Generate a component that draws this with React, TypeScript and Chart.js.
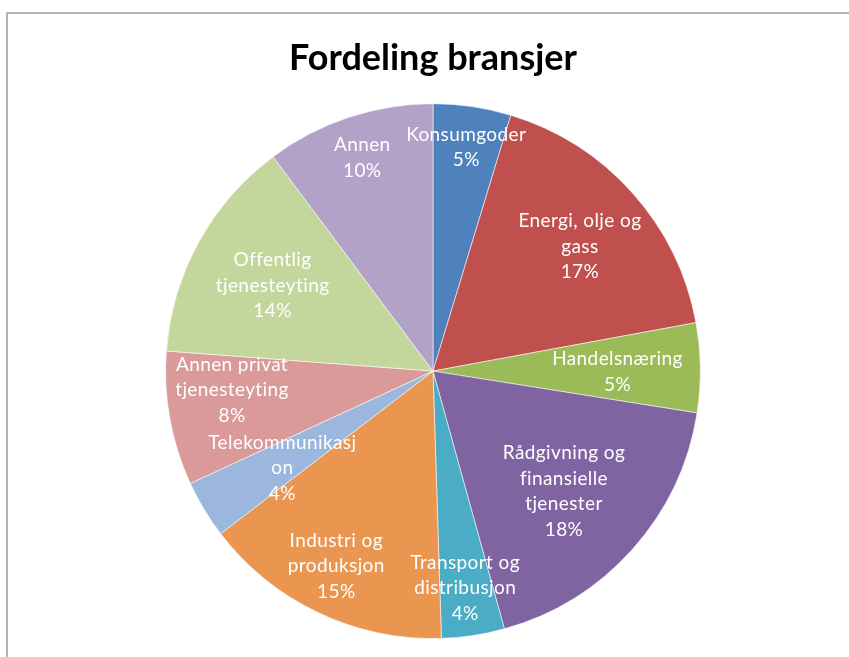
import React, { useEffect, useRef } from "react";
import { Chart, registerables } from "chart.js";

Chart.register(...registerables);

const categories = [
  "Konsumgoder",
  "Energi, olje og gass",
  "Handelsnæring",
  "Rådgivning og finansielle tjenester",
  "Transport og distribusjon",
  "Industri og produksjon",
  "Telekommunikasjon",
  "Annen privat tjenesteyting",
  "Offentlig tjenesteyting",
  "Annen",
];

const shares = [4.7, 17.4, 5.4, 18.2, 3.8, 15.1, 3.5, 8.1, 13.6, 10.2];

const colors = [
  "#4F81BD",
  "#C0504D",
  "#9BBB59",
  "#8064A2",
  "#4BACC6",
  "#EA9650",
  "#9BB7DD",
  "#D99A99",
  "#C3D69B",
  "#B3A2C7",
];

// wrapped label text as shown in the chart
const labelLines = [
  ["Konsumgoder"],
  ["Energi, olje og", "gass"],
  ["Handelsnæring"],
  ["Rådgivning og", "finansielle", "tjenester"],
  ["Transport og", "distribusjon"],
  ["Industri og", "produksjon"],
  ["Telekommunikasj", "on"],
  ["Annen privat", "tjenesteyting"],
  ["Offentlig", "tjenesteyting"],
  ["Annen"],
];

// label placement: [radius fraction, angle tweak in degrees]
const labelPlacement: [number, number][] = [
  [0.845, 0],
  [0.72, 1.5],
  [0.69, 0.9],
  [0.665, 0.8],
  [0.82, 0.2],
  [0.814, 1],
  [0.67, -1.6],
  [0.755, 4.9],
  [0.68, -0.7],
  [0.84, 0],
];

const LABEL_FONT = "Lato";
const LABEL_SIZE = 19;
const LINE_H = 25.5;

const sliceLabels = {
  id: "sliceLabels",
  afterDatasetsDraw(chart: any) {
    const ctx = chart.ctx;
    const meta = chart.getDatasetMeta(0);
    const data = chart.data.datasets[0].data as number[];
    const total = data.reduce((a, b) => a + b, 0);
    ctx.save();
    ctx.fillStyle = "#ffffff";
    ctx.font = `${LABEL_SIZE}px ${LABEL_FONT}`;
    try {
      (ctx as any).letterSpacing = "0.4px";
    } catch (e) {}
    ctx.textAlign = "center";
    ctx.textBaseline = "middle";
    meta.data.forEach((arc: any, i: number) => {
      const p = arc.getProps(["x", "y", "startAngle", "endAngle", "outerRadius"], true);
      const [frac, tweak] = labelPlacement[i];
      const mid = (p.startAngle + p.endAngle) / 2 + (tweak * Math.PI) / 180;
      const r = p.outerRadius * frac;
      const cx = p.x + Math.cos(mid) * r;
      const cy = p.y + Math.sin(mid) * r;
      const pct = Math.round((data[i] / total) * 100) + "%";
      const lines = [...labelLines[i], pct];
      const y0 = cy - ((lines.length - 1) * LINE_H) / 2;
      lines.forEach((t, k) => ctx.fillText(t, cx, y0 + k * LINE_H));
    });
    ctx.restore();
  },
};

export default function App() {
  const ref = useRef<HTMLCanvasElement | null>(null);
  useEffect(() => {
    if (!ref.current) return;
    const chart = new Chart(ref.current, {
      type: "pie",
      data: {
        labels: categories,
        datasets: [
          {
            data: shares,
            backgroundColor: colors,
            borderColor: "rgba(255,255,255,0.55)",
            borderWidth: 1,
          },
        ],
      },
      options: {
        responsive: false,
        devicePixelRatio: 1,
        animation: false,
        rotation: 0,
        layout: { padding: { left: 165, right: 148, top: 0, bottom: 18 } },
        plugins: {
          legend: { display: false },
          tooltip: { enabled: false },
          title: {
            display: true,
            text: "Fordeling bransjer",
            color: "#000000",
            font: { family: "Lato", size: 36, weight: "bold", lineHeight: 1.2 },
            padding: { top: 37, bottom: 23 },
          },
        },
      },
      plugins: [sliceLabels],
    });
    return () => chart.destroy();
  }, []);

  return (
    <div
      style={{
        position: "fixed",
        left: 0,
        top: 0,
        width: 849,
        height: 657,
        overflow: "hidden",
        background: "#ffffff",
      }}
    >
      <div
        style={{
          position: "absolute",
          left: 6,
          top: 12,
          width: 900,
          height: 700,
          border: "2px solid #b3b3b3",
        }}
      />
      <canvas
        ref={ref}
        width={849}
        height={657}
        style={{ position: "absolute", left: 0, top: 0, width: 849, height: 657 }}
      />
    </div>
  );
}
